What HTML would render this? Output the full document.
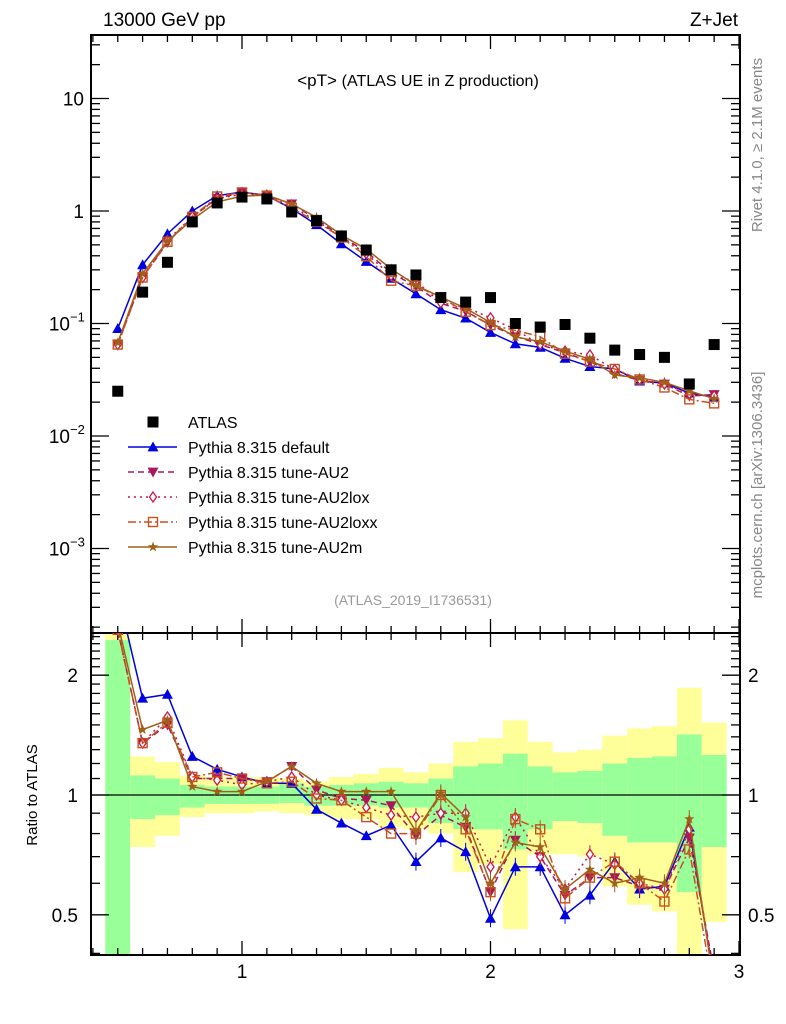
<!DOCTYPE html>
<html><head><meta charset="utf-8"><style>
body{margin:0;background:#fff;}
svg{display:block;font-family:"Liberation Sans",sans-serif;}
</style></head><body>
<svg id="chart" width="786" height="1024" viewBox="0 0 786 1024" xmlns="http://www.w3.org/2000/svg">
<g id="bands"></g>
<g id="grid"></g>
<g id="series"></g>
<text x="103" y="26" font-size="19">13000 GeV pp</text>
<text x="738" y="26" font-size="19" text-anchor="end">Z+Jet</text>
<text x="418" y="86" font-size="17" text-anchor="middle">&lt;pT&gt; <tspan font-size="16">(ATLAS UE in Z production)</tspan></text>
<text x="413" y="605" font-size="14" fill="#999" text-anchor="middle">(ATLAS_2019_I1736531)</text>
<text transform="translate(762,145) rotate(-90)" font-size="15" fill="#888" text-anchor="middle">Rivet 4.1.0, ≥ 2.1M events</text>
<text transform="translate(762,485) rotate(-90)" font-size="15" fill="#888" text-anchor="middle">mcplots.cern.ch [arXiv:1306.3436]</text>
<text transform="translate(37,795) rotate(-90)" font-size="15" text-anchor="middle">Ratio to ATLAS</text>
<g id="legend"></g>
</svg>
<script>
const xs=[0.5,0.6,0.7,0.8,0.9,1.0,1.1,1.2,1.3,1.4,1.5,1.6,1.7,1.8,1.9,2.0,2.1,2.2,2.3,2.4,2.5,2.6,2.7,2.8,2.9];
const atlas=[0.025,0.19,0.35,0.8,1.18,1.33,1.28,0.98,0.82,0.6,0.45,0.3,0.27,0.17,0.155,0.17,0.1,0.093,0.098,0.074,0.058,0.053,0.05,0.029,0.065];
const rDefault=[3.6,1.75,1.79,1.25,1.16,1.11,1.07,1.07,0.92,0.85,0.79,0.84,0.68,0.78,0.72,0.49,0.66,0.66,0.50,0.56,0.68,0.58,0.59,0.83,0.34];
const rAU2=[2.6,1.35,1.50,1.10,1.10,1.10,1.08,1.18,1.03,0.98,0.97,0.94,0.79,0.89,0.83,0.57,0.77,0.70,0.56,0.62,0.62,0.59,0.58,0.78,0.36];
const rLox=[2.6,1.35,1.57,1.11,1.09,1.06,1.08,1.11,1.00,0.97,0.93,0.89,0.88,0.90,0.90,0.66,0.88,0.70,0.58,0.71,0.67,0.60,0.58,0.82,0.35];
const rLoxx=[2.6,1.35,1.52,1.11,1.14,1.10,1.07,1.08,0.98,0.97,0.88,0.80,0.80,1.00,0.82,0.57,0.87,0.82,0.55,0.62,0.68,0.60,0.54,0.73,0.30];
const rAU2m=[2.7,1.46,1.54,1.05,1.02,1.02,1.08,1.18,1.07,1.02,1.02,1.02,0.81,1.01,0.88,0.60,0.76,0.74,0.58,0.65,0.60,0.62,0.60,0.87,0.33];
const yelUp=[3,1.25,1.21,1.12,1.11,1.11,1.11,1.10,1.08,1.11,1.13,1.17,1.14,1.20,1.36,1.39,1.54,1.36,1.28,1.30,1.41,1.47,1.49,1.86,1.52];
const grnUp=[2.45,1.12,1.10,1.06,1.05,1.05,1.05,1.07,1.05,1.06,1.07,1.08,1.07,1.10,1.18,1.20,1.27,1.18,1.14,1.15,1.20,1.24,1.25,1.42,1.26];
const grnLo=[0.3,0.87,0.89,0.93,0.95,0.95,0.95,0.955,0.94,0.94,0.94,0.93,0.93,0.85,0.82,0.82,0.73,0.82,0.86,0.85,0.79,0.76,0.76,0.57,0.74];
const yelLo=[0.3,0.74,0.79,0.88,0.90,0.90,0.91,0.90,0.89,0.87,0.87,0.83,0.82,0.80,0.64,0.67,0.46,0.71,0.71,0.70,0.59,0.53,0.51,0.3,0.48];
const ns="http://www.w3.org/2000/svg";
const L=91,R=740,T=35,M=633,B=955;
const X=v=>242+(v-1)*248.5;
const Y=v=>211-Math.log10(v)*112.5;
const YR=v=>{let y=795-Math.log10(v)*398;return Math.max(M-40,Math.min(B+40,y));};
function el(p,t,a){const e=document.createElementNS(ns,t);for(const k in a)e.setAttribute(k,a[k]);p.appendChild(e);return e;}
const bandsG=document.getElementById('bands'),gridG=document.getElementById('grid'),serG=document.getElementById('series');
const defs=el(document.getElementById('chart'),'defs',{});
const cp1=el(defs,'clipPath',{id:'cTop'});el(cp1,'rect',{x:L,y:T,width:R-L,height:M-T});
const cp2=el(defs,'clipPath',{id:'cBot'});el(cp2,'rect',{x:L,y:M,width:R-L,height:B-M});
bandsG.setAttribute('clip-path','url(#cBot)');
xs.forEach((x,i)=>{
  const x0=X(x-0.05),w=X(x+0.05)-x0;
  const a=el(bandsG,'rect',{x:x0,y:YR(yelUp[i]),width:w,height:YR(yelLo[i])-YR(yelUp[i]),fill:'#ffff99'});
  
  
  const g=el(bandsG,'rect',{x:x0,y:YR(grnUp[i]),width:w,height:YR(grnLo[i])-YR(grnUp[i]),fill:'#99ff99'});
  
  
});
el(gridG,'rect',{x:L,y:T,width:R-L,height:M-T,fill:'none',stroke:'#000','stroke-width':2});
el(gridG,'rect',{x:L,y:M,width:R-L,height:B-M,fill:'none',stroke:'#000','stroke-width':2});
el(gridG,'line',{x1:L,x2:R,y1:795,y2:795,stroke:'#000','stroke-width':1.3});
for(let k=4;k<=30;k++){const v=k/10,x=X(v);if(x<L||x>R)continue;const big=k%10==0?1:0;const len=big?14:7;
 [[T,1],[M,-1],[M,1],[B,-1]].forEach(([y,d])=>el(gridG,'line',{x1:x,x2:x,y1:y,y2:y+d*len,stroke:'#000','stroke-width':1.3}));
 if(big){const t=el(gridG,'text',{x:x,y:978,'font-size':19,'text-anchor':'middle'});t.textContent=k/10;
 
 }}
for(let d=-4;d<=1;d++){for(let m=1;m<10;m++){const v=m*Math.pow(10,d),y=Y(v);if(y<T||y>M)continue;const len=m==1?18:9;
 el(gridG,'line',{x1:L,x2:L+len,y1:y,y2:y,stroke:'#000','stroke-width':1.3});el(gridG,'line',{x1:R,x2:R-len,y1:y,y2:y,stroke:'#000','stroke-width':1.3});}}
const ylab=[[1,'10',''],[0,'1',''],[-1,'10','−1'],[-2,'10','−2'],[-3,'10','−3']];
ylab.forEach(([d,b,e])=>{const y=Y(Math.pow(10,d))+7;const t=el(gridG,'text',{x:e?70:84,y:y,'font-size':19,'text-anchor':'end'});t.textContent=b;
 
 
 if(e){const s=el(gridG,'text',{x:70,y:y-9,'font-size':13});s.textContent=e;}});
[0.4,0.5,0.6,0.7,0.8,0.9,1,1.1,1.2,1.3,1.4,1.5,1.6,1.7,1.8,1.9,2,2.1,2.2,2.3,2.4,2.5].forEach(v=>{const y=795-Math.log10(v)*398;if(y<M||y>B)return;const big=(v==0.5||v==1||v==2);const len=big?18:9;
 el(gridG,'line',{x1:L,x2:L+len,y1:y,y2:y,stroke:'#000','stroke-width':1.3});el(gridG,'line',{x1:R,x2:R-len,y1:y,y2:y,stroke:'#000','stroke-width':1.3});
 if(big){const t=el(gridG,'text',{x:78,y:y+7,'font-size':19,'text-anchor':'end'});t.textContent=v;
 
 
 const t2=el(gridG,'text',{x:748,y:y+7,'font-size':19});t2.textContent=v;
 
 }});
function marker(g,type,x,y,c){
 const s=5.5;
 if(type=='sq')return el(g,'rect',{x:x-5.5,y:y-5.5,width:11,height:11,fill:'#000'});
 if(type=='up')return el(g,'polygon',{points:`${x},${y-s} ${x-s},${y+s*0.8} ${x+s},${y+s*0.8}`,fill:c});
 if(type=='dn')return el(g,'polygon',{points:`${x},${y+s} ${x-s},${y-s*0.8} ${x+s},${y-s*0.8}`,fill:c});
 if(type=='dia')return el(g,'polygon',{points:`${x},${y-5} ${x-3.5},${y} ${x},${y+5} ${x+3.5},${y}`,fill:'#fff',stroke:c,'stroke-width':1.3});
 if(type=='osq')return el(g,'rect',{x:x-4.5,y:y-4.5,width:9,height:9,fill:'none',stroke:c,'stroke-width':1.4});
 if(type=='star'){let p=[];for(let k=0;k<10;k++){const r=k%2?2.2:5.5,a=-Math.PI/2+k*Math.PI/5;p.push((x+r*Math.cos(a)).toFixed(1)+','+(y+r*Math.sin(a)).toFixed(1));}return el(g,'polygon',{points:p.join(' '),fill:c});}
}
const models=[
 {n:'default',r:rDefault,c:'#0000e0',d:'',m:'up',label:'Pythia 8.315 default'},
 {n:'au2',r:rAU2,c:'#a8185a',d:'6,4',m:'dn',label:'Pythia 8.315 tune-AU2'},
 {n:'au2lox',r:rLox,c:'#c8184a',d:'2,4',m:'dia',label:'Pythia 8.315 tune-AU2lox'},
 {n:'au2loxx',r:rLoxx,c:'#c8501e',d:'8,3,2,3',m:'osq',label:'Pythia 8.315 tune-AU2loxx'},
 {n:'au2m',r:rAU2m,c:'#a0601a',d:'',m:'star',label:'Pythia 8.315 tune-AU2m'}];
const gUpper=el(serG,'g',{'clip-path':'url(#cTop)'}),gLower=el(serG,'g',{'clip-path':'url(#cBot)'});
models.forEach(md=>{
 const vals=atlas.map((a,i)=>a*md.r[i]);
 const gt=el(gUpper,'g',{});
 
 
 el(gt,'polyline',{points:xs.map((x,i)=>X(x)+','+Y(vals[i])).join(' '),fill:'none',stroke:md.c,'stroke-width':1.5,'stroke-dasharray':md.d});
 xs.forEach((x,i)=>marker(gt,md.m,X(x),Y(vals[i]),md.c));
 const gb=el(gLower,'g',{});
 
 
 const rr=vals.map((v,i)=>v/atlas[i]);
 el(gb,'polyline',{points:xs.map((x,i)=>X(x)+','+YR(rr[i])).join(' '),fill:'none',stroke:md.c,'stroke-width':1.5,'stroke-dasharray':md.d});
 xs.forEach((x,i)=>{const y=YR(rr[i]);if(i>=12)el(gb,'line',{x1:X(x),x2:X(x),y1:y-9,y2:y+9,stroke:md.c,'stroke-width':1});marker(gb,md.m,X(x),y,md.c);});
});
const ga=el(gUpper,'g',{});


xs.forEach((x,i)=>marker(ga,'sq',X(x),Y(atlas[i])));
const lg=document.getElementById('legend');
const e0=el(lg,'g',{});


marker(e0,'sq',153,422);
const t0=el(e0,'text',{x:188,y:428,'font-size':16});t0.textContent='ATLAS';
models.forEach((md,k)=>{const y=447+k*25;const g=el(lg,'g',{});
 
 
 el(g,'line',{x1:128,x2:177,y1:y,y2:y,stroke:md.c,'stroke-width':1.5,'stroke-dasharray':md.d});
 marker(g,md.m,153,y,md.c);
 const t=el(g,'text',{x:188,y:y+6,'font-size':16});t.textContent=md.label;});
</script>
</body></html>
